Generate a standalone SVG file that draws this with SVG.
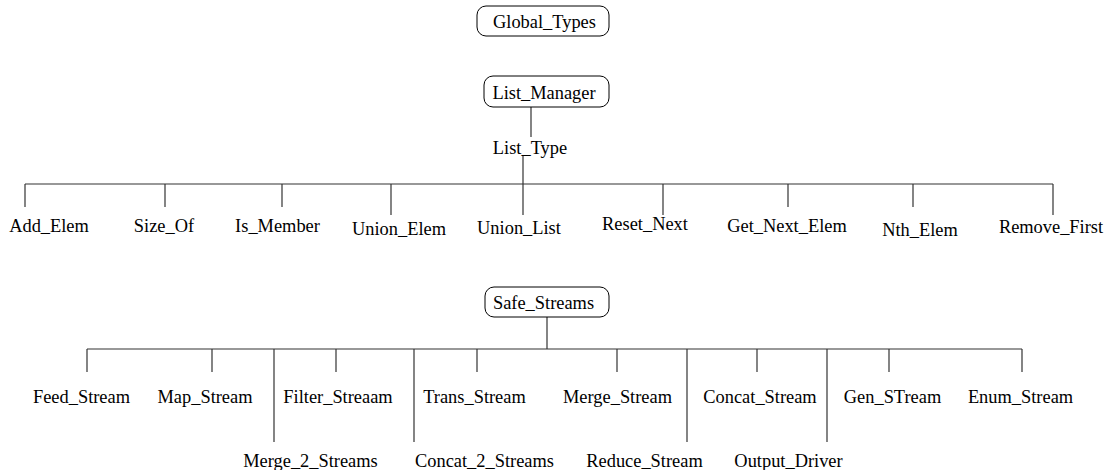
<svg xmlns="http://www.w3.org/2000/svg" width="1108" height="470" viewBox="0 0 1108 470">
<style>
.box{fill:#fff;stroke:#000;stroke-width:1}
.t{font-family:"Liberation Serif","Times New Roman",serif;font-size:18.4px;fill:#000;text-anchor:middle}
.c line{stroke:#333;stroke-width:1.2}
</style>
<rect width="1108" height="470" fill="#fff"/>
<g class="c" id="connectors">
<line x1="531" y1="107" x2="531" y2="137"/>
<line x1="523" y1="155" x2="523" y2="215"/>
<line x1="25" y1="184" x2="1053" y2="184"/>
<line x1="25" y1="184" x2="25" y2="207"/>
<line x1="165" y1="184" x2="165" y2="207"/>
<line x1="282" y1="184" x2="282" y2="207"/>
<line x1="391" y1="184" x2="391" y2="215"/>
<line x1="663" y1="184" x2="663" y2="215"/>
<line x1="788" y1="184" x2="788" y2="207"/>
<line x1="913" y1="184" x2="913" y2="207"/>
<line x1="1053" y1="184" x2="1053" y2="215"/>
<line x1="547" y1="317" x2="547" y2="349"/>
<line x1="87" y1="349" x2="1022" y2="349"/>
<line x1="87" y1="349" x2="87" y2="372"/>
<line x1="212" y1="349" x2="212" y2="372"/>
<line x1="274" y1="349" x2="274" y2="442"/>
<line x1="336" y1="349" x2="336" y2="372"/>
<line x1="414" y1="349" x2="414" y2="442"/>
<line x1="477" y1="349" x2="477" y2="372"/>
<line x1="617" y1="349" x2="617" y2="372"/>
<line x1="687" y1="349" x2="687" y2="442"/>
<line x1="757" y1="349" x2="757" y2="372"/>
<line x1="827" y1="349" x2="827" y2="442"/>
<line x1="889" y1="349" x2="889" y2="372"/>
<line x1="1022" y1="349" x2="1022" y2="372"/>
</g>
<g id="Global_Types"><rect class="box" x="477" y="6" width="132" height="30" rx="9"/><text class="t" x="544.5" y="28">Global_Types</text></g>
<g id="List_Manager"><rect class="box" x="484" y="76" width="125" height="31" rx="9"/><text class="t" x="544" y="99">List_Manager</text></g>
<g id="List_Type"><text class="t" x="530" y="154">List_Type</text></g>
<g id="Add_Elem"><text class="t" x="49" y="232">Add_Elem</text></g>
<g id="Size_Of"><text class="t" x="164" y="232">Size_Of</text></g>
<g id="Is_Member"><text class="t" x="277.5" y="232">Is_Member</text></g>
<g id="Union_Elem"><text class="t" x="399" y="235">Union_Elem</text></g>
<g id="Union_List"><text class="t" x="519" y="234">Union_List</text></g>
<g id="Reset_Next"><text class="t" x="645" y="230">Reset_Next</text></g>
<g id="Get_Next_Elem"><text class="t" x="787" y="232">Get_Next_Elem</text></g>
<g id="Nth_Elem"><text class="t" x="920" y="236">Nth_Elem</text></g>
<g id="Remove_First"><text class="t" x="1051" y="233">Remove_First</text></g>
<g id="Safe_Streams"><rect class="box" x="485" y="287" width="124" height="30" rx="9"/><text class="t" x="543.5" y="309">Safe_Streams</text></g>
<g id="Feed_Stream"><text class="t" x="81.5" y="403">Feed_Stream</text></g>
<g id="Map_Stream"><text class="t" x="205" y="403">Map_Stream</text></g>
<g id="Filter_Streaam"><text class="t" x="338" y="403">Filter_Streaam</text></g>
<g id="Trans_Stream"><text class="t" x="474.5" y="403">Trans_Stream</text></g>
<g id="Merge_Stream"><text class="t" x="617.5" y="403">Merge_Stream</text></g>
<g id="Concat_Stream"><text class="t" x="760" y="403">Concat_Stream</text></g>
<g id="Gen_STream"><text class="t" x="892.5" y="403">Gen_STream</text></g>
<g id="Enum_Stream"><text class="t" x="1020.5" y="403">Enum_Stream</text></g>
<g id="Merge_2_Streams"><text class="t" x="310.5" y="467">Merge_2_Streams</text></g>
<g id="Concat_2_Streams"><text class="t" x="484.5" y="467">Concat_2_Streams</text></g>
<g id="Reduce_Stream"><text class="t" x="644.5" y="467">Reduce_Stream</text></g>
<g id="Output_Driver"><text class="t" x="788.5" y="467">Output_Driver</text></g>
</svg>
